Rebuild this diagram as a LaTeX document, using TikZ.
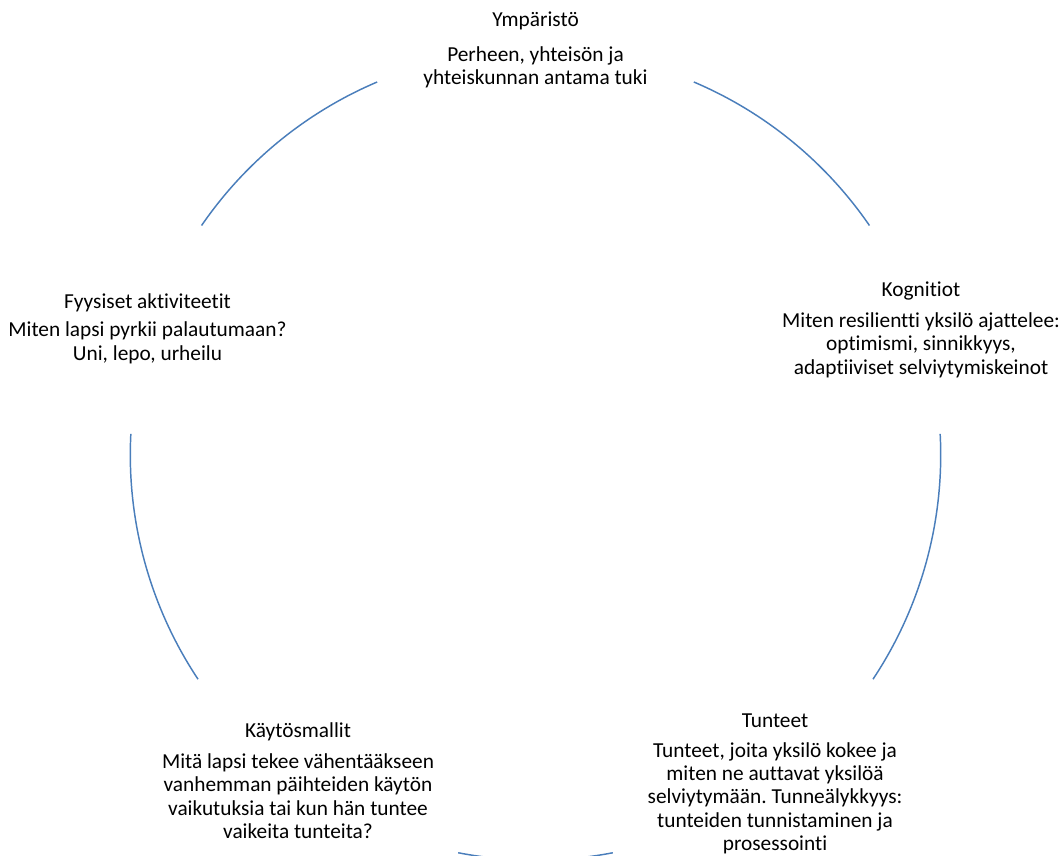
\documentclass[tikz,border=0pt]{standalone}
\usepackage{fontspec}
\setmainfont[Ligatures=NoCommon]{Carlito}
\frenchspacing
\definecolor{arcblue}{HTML}{4A7EBB}
\tikzset{
  arcline/.style={draw=arcblue, line width=1.1pt},
  label/.style={anchor=north, inner sep=0pt, align=center, font=\fontsize{16}{17.5}\selectfont},
}
\begin{document}
\begin{tikzpicture}[x=0.75pt,y=0.75pt]
\useasboundingbox (0,0) rectangle (1063,856);
\coordinate (C) at (535.5,401);
\def\R{405.2}
% text blocks
\node[label] (env) at (535.5,845.6) {\strut Ympäristö\\[8.2pt]Perheen, yhteisön ja\\yhteiskunnan antama tuki};
\node[label] (cog) at (921,575.6) {\strut Kognitiot\\[5.4pt]Miten resilientti yksilö ajattelee:\\optimismi, sinnikkyys,\\adaptiiviset selviytymiskeinot};
\node[label] (phys) at (147.5,564) {\strut Fyysiset aktiviteetit\\[3.8pt]Miten lapsi pyrkii palautumaan?\\Uni, lepo, urheilu};
\node[label] (beh) at (298,135) {\strut Käytösmallit\\[5.7pt]Mitä lapsi tekee vähentääkseen\\vanhemman päihteiden käytön\\vaikutuksia tai kun hän tuntee\\vaikeita tunteita?};
\node[label] (emo) at (775,145.6) {\strut Tunteet\\[5pt]Tunteet, joita yksilö kokee ja\\miten ne auttavat yksilöä\\selviytymään. Tunneälykkyys:\\tunteiden tunnistaminen ja\\prosessointi};
% arcs of the cycle
\draw[arcline] ([shift={(113:\R)}]C) arc[start angle=113, end angle=145.5, radius=\R];
\draw[arcline] ([shift={(34.5:\R)}]C) arc[start angle=34.5, end angle=67, radius=\R];
\draw[arcline] ([shift={(-33.6:\R)}]C) arc[start angle=-33.6, end angle=3, radius=\R];
\draw[arcline] ([shift={(-101:\R)}]C) arc[start angle=-101, end angle=-79, radius=\R];
\draw[arcline] ([shift={(177:\R)}]C) arc[start angle=177, end angle=213.6, radius=\R];
\end{tikzpicture}
\end{document}
